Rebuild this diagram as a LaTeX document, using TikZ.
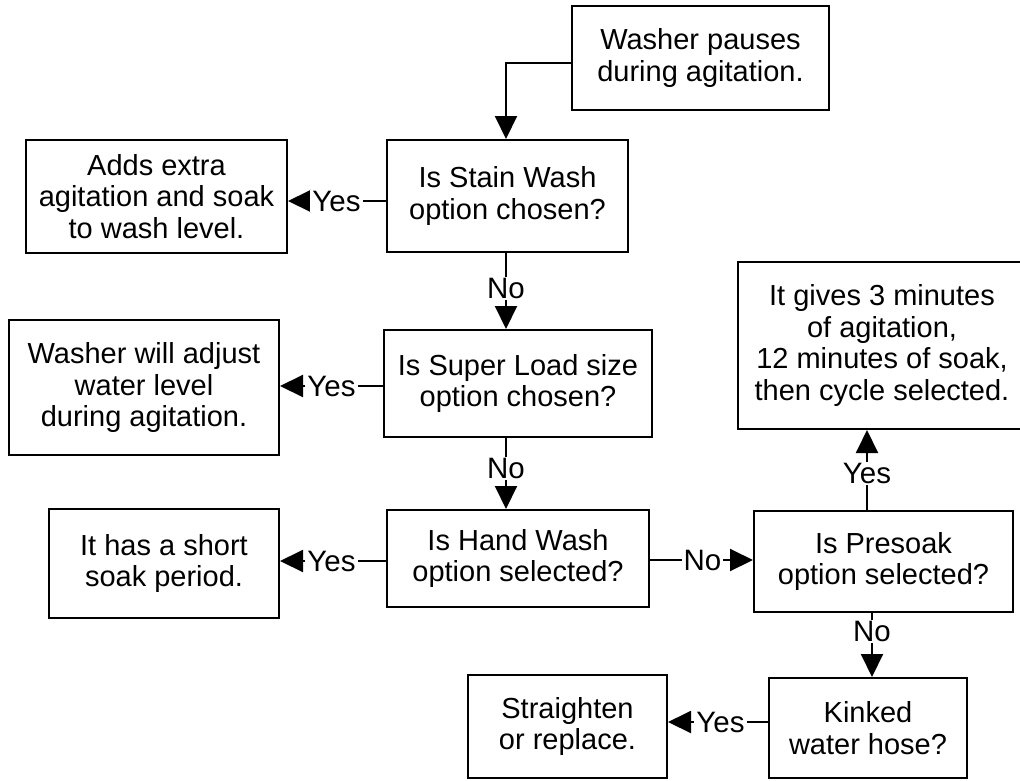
\documentclass[tikz,border=0pt]{standalone}
\usepackage{fontspec}
\setmainfont{Liberation Sans}
\usetikzlibrary{arrows.meta}
\begin{document}
\begin{tikzpicture}[x=1pt,y=-1pt,
 box/.style={draw, line width=2pt, rectangle, align=center, inner sep=0pt, font=\fontsize{29}{31.5}\selectfont},
 conn/.style={line width=2pt},
 arr/.style={conn, -{Triangle[length=23pt,width=22pt]}},
 lab/.style={fill=white, inner xsep=2pt, inner ysep=1pt, font=\fontsize{29.5}{31}\selectfont}]
\useasboundingbox (0,0) rectangle (1020,780);
\clip (0,0) rectangle (1020,780);
\node[box, minimum width=257pt, minimum height=104pt] (pause) at (700.5,58) {Washer pauses\\during agitation.};
\node[box, minimum width=241pt, minimum height=112pt] (stain) at (507.5,196) {Is Stain Wash\\option chosen?};
\node[box, minimum width=261pt, minimum height=113pt] (adds) at (156.5,196.5) {Adds extra\\agitation and soak\\to wash level.};
\node[box, minimum width=268pt, minimum height=107pt] (superq) at (518,383.5) {Is Super Load size\\option chosen?};
\node[box, minimum width=270pt, minimum height=135pt] (adjust) at (144,387.5) {Washer will adjust\\water level\\during agitation.};
\node[box, minimum width=262pt, minimum height=97pt] (hand) at (518,558.5) {Is Hand Wash\\option selected?};
\node[box, minimum width=230pt, minimum height=109pt] (short) at (164,563.5) {It has a short\\soak period.};
\node[box, minimum width=288pt, minimum height=167pt] (gives) at (882,345.5) {It gives 3 minutes\\of agitation,\\12 minutes of soak,\\then cycle selected.};
\node[box, minimum width=259pt, minimum height=101pt] (presoak) at (883.5,561.5) {Is Presoak\\option selected?};
\node[box, minimum width=198pt, minimum height=100pt] (kinked) at (868,728) {Kinked\\water hose?};
\node[box, minimum width=199pt, minimum height=103pt] (straight) at (567.5,726.5) {Straighten\\or replace.};

\draw[arr] ([yshift=-5pt]pause.west) -| ([xshift=-1.5pt]stain.north);
\draw[arr] ([yshift=-5pt]stain.west) -- node[lab,pos=0.505]{Yes} ([yshift=-5pt]stain.west -| adds.east);
\draw[arr] ([xshift=-1.5pt]stain.south) -- node[lab,pos=0.47]{No} ([xshift=-1.5pt]stain.south |- superq.north);
\draw[arr] ([yshift=-2.5pt]superq.west) -- node[lab,pos=0.5]{Yes} ([yshift=-2.5pt]superq.west -| adjust.east);
\draw[arr] ([xshift=-12pt]superq.south) -- node[lab,pos=0.43]{No} ([xshift=-12pt]hand.north);
\draw[arr] ([yshift=-2.5pt]hand.west) -- node[lab,pos=0.514]{Yes} ([yshift=-2.5pt]hand.west -| short.east);
\draw[arr] ([yshift=-1.5pt]hand.east) -- node[lab,pos=0.51]{No} ([yshift=-1.5pt]hand.east -| presoak.west);
\draw[arr] ([xshift=-16.5pt]presoak.north) -- node[lab,pos=0.46]{Yes} ([xshift=-16.5pt]presoak.north |- gives.south);
\draw[arr] ([xshift=-11.5pt]presoak.south) -- node[lab,pos=0.29]{No} ([xshift=-11.5pt]presoak.south |- kinked.north);
\draw[arr] ([yshift=6pt]kinked.west) -- node[lab,pos=0.475]{Yes} ([yshift=6pt]kinked.west -| straight.east);
\end{tikzpicture}
\end{document}
